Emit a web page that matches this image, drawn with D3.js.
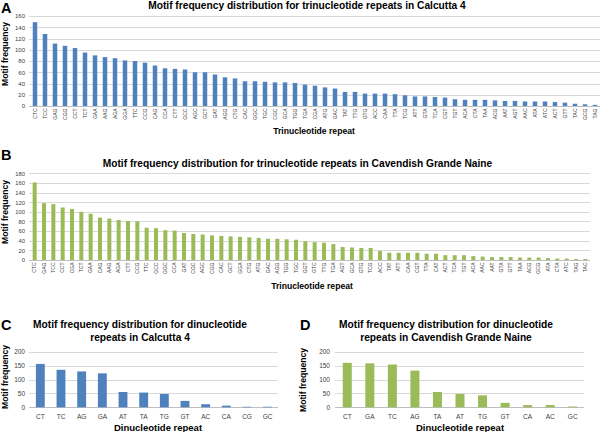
<!DOCTYPE html>
<html>
<head>
<meta charset="utf-8">
<script src="https://cdn.jsdelivr.net/npm/d3@7"></script>
<style>
  html, body { margin: 0; padding: 0; background: #fff; }
  svg { display: block; font-family: "Liberation Sans", Arial, sans-serif; }
</style>
</head>
<body>
<svg id="chart" width="600" height="432"></svg>
<script>
// ---------- DATA ----------
const triCalcuttaLabels = ["CTC","TCC","GAG","CGG","CCT","TCT","GAA","AAG","AGA","GGA","TTC","CCG","CAG","CCA","CTT","GCC","AGC","GCT","GAT","AGG","CTG","CAC","GGC","TGC","CGC","GCA","TGG","TGA","CGA","ATG","GAC","TAT","TTG","GTG","ACC","CAA","TTA","TCG","ATT","GTA","TCA","CGT","TGT","ACA","CTA","TAA","ACG","AAT","AGT","AAC","ATA","ATC","ACT","GTT","TAC","GCG","TAG"];
const triCalcuttaValues = [149,128,111,107,103,95,90,87,85,81,80,77,72,67,66,65,60,60,56,51,49,44,44,43,42,42,41,38,36,33,31,25,25,22,22,22,21,19,17,17,16,15,12,11,11,11,10,9,9,8,8,8,7,6,4,3,2];

const triCavendishLabels = ["CTC","GAG","TCC","CCT","CGA","TCT","GAA","CAG","AAG","AGA","CTT","CCG","TTC","GCC","GGC","CCA","GAT","CGC","AGC","CGG","CAC","GCT","GGA","CTG","ATG","GAC","AGG","TGG","TGC","GGT","GTC","TTG","TGA","AGT","GCA","GTG","TCG","ACC","TAT","ATT","CAA","CGT","TTA","CAT","ACT","TCA","TGT","ACA","AAC","AAT","GTA","GTT","TAA","ACG","GCG","ATA","CTA","ATC","TAG","TAC"];
const triCavendishValues = [161,118,116,109,106,100,96,88,86,83,81,80,67,66,62,61,56,54,53,51,50,49,48,47,46,44,44,43,42,39,37,36,33,27,26,25,25,19,15,15,15,15,13,13,10,10,10,8,7,6,6,6,5,5,5,4,3,3,2,2];

const diCalcuttaLabels = ["CT","TC","AG","GA","AT","TA","TG","GT","AC","CA","CG","GC"];
const diCalcuttaValues = [156,135,129,122,55,53,48,23,11,6,2,2];

const diCavendishLabels = ["CT","GA","TC","AG","TA","AT","TG","GT","CA","AC","GC"];
const diCavendishValues = [160,158,154,132,55,48,43,16,8,8,3];

const triCalcuttaTicks = [0,20,40,60,80,100,120,140,160];
const triCavendishTicks = [0,20,40,60,80,100,120,140,160,180];
const diTicks = [0,50,100,150,200];

const panelLetters = ["A","B","C","D"];
const titleA = "Motif frequency distribution for trinucleotide repeats in Calcutta 4";
const titleB = "Motif frequency distribution for trinucleotide repeats in Cavendish Grande Naine";
const titleC = ["Motif frequency distribution for dinucleotide", "repeats in Calcutta 4"];
const titleD = ["Motif frequency distribution for dinucleotide", "repeats in Cavendish Grande Naine"];
const yTitle = "Motif frequency";
const xTitleTri = "Trinucleotide repeat";
const xTitleDi = "Dinucleotide repeat";

const BLUE = "#4f81bd";
const GREEN = "#9bbb59";

// ---------- DRAW ----------
const svg = d3.select("#chart");

function panel(o) {
  const g = svg.append("g");
  const x = d3.scaleBand().domain(o.labels).range(o.xr)
    .paddingInner(o.pad).paddingOuter(o.pad / 2);
  const y = d3.scaleLinear().domain([0, o.ticks[o.ticks.length - 1]]).range(o.yr);

  // gridlines
  g.append("g").selectAll("line").data(o.ticks).join("line")
    .attr("x1", o.xr[0] - 1).attr("x2", o.xr[1])
    .attr("y1", d => Math.round(y(d)) + 0.5).attr("y2", d => Math.round(y(d)) + 0.5)
    .attr("stroke", d => d === 0 ? "#bfbfbf" : "#d9d9d9").attr("stroke-width", 1);

  // bars
  g.append("g").selectAll("rect").data(o.values).join("rect")
    .attr("x", (d, i) => x(o.labels[i]))
    .attr("width", x.bandwidth())
    .attr("y", d => y(d))
    .attr("height", d => y(0) - y(d))
    .attr("fill", o.color);

  // y axis
  const ya = g.append("g").attr("transform", `translate(${o.xr[0] - 1},0)`)
    .call(d3.axisLeft(y).tickValues(o.ticks).tickSize(0).tickPadding(o.yPad));
  ya.select(".domain").remove();
  ya.selectAll("text").attr("font-size", o.yFont).attr("fill", "#404040")
    .attr("font-family", "'Liberation Sans', Arial, sans-serif");

  // x axis
  const xa = g.append("g").attr("transform", `translate(0,${o.yr[0]})`)
    .call(d3.axisBottom(x).tickSize(0).tickPadding(2));
  xa.select(".domain").remove();
  xa.selectAll("text").attr("font-size", o.xFont).attr("fill", "#404040")
    .attr("font-family", "'Liberation Sans', Arial, sans-serif");
  if (o.rotate) {
    xa.selectAll("text")
      .attr("y", 0).attr("x", -2.5).attr("dy", "0.35em")
      .attr("transform", "rotate(-90)")
      .style("text-anchor", "end");
  } else {
    xa.selectAll("text").attr("y", o.xLabY).attr("dy", 0);
  }

  // titles
  const t = g.append("text").attr("font-weight", "bold").attr("font-size", 10.2)
    .attr("text-anchor", "middle").attr("fill", "#000");
  o.title.forEach((s, i) => {
    t.append("tspan").attr("x", o.titleX).attr("y", o.titleY + i * 12.3).text(s);
  });

  g.append("text").attr("font-weight", "bold").attr("font-size", o.xtFont)
    .attr("text-anchor", "middle").attr("x", o.xtX).attr("y", o.xtY).text(o.xTitle);

  g.append("text").attr("font-weight", "bold").attr("font-size", 8.6)
    .attr("text-anchor", "middle")
    .attr("transform", `translate(${o.ytX},${o.ytY}) rotate(-90)`).text(yTitle);

  g.append("text").attr("font-weight", "bold").attr("font-size", 14.5)
    .attr("x", o.letterX).attr("y", o.letterY).text(o.letter);
}

panel({
  labels: triCalcuttaLabels, values: triCalcuttaValues, ticks: triCalcuttaTicks,
  xr: [30, 600], yr: [106, 16], pad: 0.55, color: BLUE,
  yFont: 6, yPad: 4, xFont: 5, rotate: true,
  title: [titleA], titleX: 307, titleY: 8.5,
  xTitle: xTitleTri, xtFont: 8.6, xtX: 314, xtY: 133.5,
  ytX: 7.5, ytY: 54, letter: panelLetters[0], letterX: 1, letterY: 12.5
});

panel({
  labels: triCavendishLabels, values: triCavendishValues, ticks: triCavendishTicks,
  xr: [30, 590], yr: [260, 173.3], pad: 0.57, color: GREEN,
  yFont: 5.8, yPad: 4, xFont: 5, rotate: true,
  title: [titleB], titleX: 297.5, titleY: 166.7,
  xTitle: xTitleTri, xtFont: 8.6, xtX: 312, xtY: 288.5,
  ytX: 7.5, ytY: 212, letter: panelLetters[1], letterX: 1, letterY: 160
});

panel({
  labels: diCalcuttaLabels, values: diCalcuttaValues, ticks: diTicks,
  xr: [30, 278], yr: [407.3, 351.7], pad: 0.57, color: BLUE,
  yFont: 6.5, yPad: 4, xFont: 6.5, rotate: false, xLabY: 12,
  title: [titleC[0], titleC[1]], titleX: 140, titleY: 328.3,
  xTitle: xTitleDi, xtFont: 9.5, xtX: 158, xtY: 430.5,
  ytX: 7.5, ytY: 377, letter: panelLetters[2], letterX: 1, letterY: 329.5
});

panel({
  labels: diCavendishLabels, values: diCavendishValues, ticks: diTicks,
  xr: [336, 584], yr: [407.3, 351.7], pad: 0.6, color: GREEN,
  yFont: 6.5, yPad: 5, xFont: 6.5, rotate: false, xLabY: 12,
  title: [titleD[0], titleD[1]], titleX: 446, titleY: 328.3,
  xTitle: xTitleDi, xtFont: 9.5, xtX: 460, xtY: 430.5,
  ytX: 306, ytY: 380, letter: panelLetters[3], letterX: 300, letterY: 330
});
</script>
</body>
</html>
